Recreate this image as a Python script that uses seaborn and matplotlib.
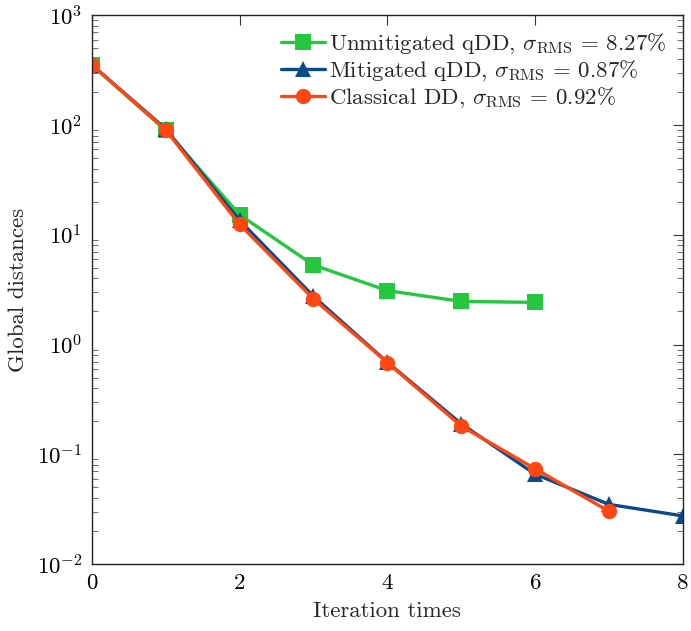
import numpy as np
import pandas as pd
import seaborn as sns
import matplotlib
matplotlib.use("Agg")
import matplotlib.pyplot as plt
from matplotlib.ticker import LogLocator, NullFormatter

# Global distance per iteration for each solver
iters_unmit = [0, 1, 2, 3, 4, 5, 6]
dist_unmit = [352, 89, 15.2, 5.3, 3.1, 2.47, 2.42]

iters_mit = [0, 1, 2, 3, 4, 5, 6, 7, 8]
dist_mit = [352, 92, 13.5, 2.75, 0.69, 0.19, 0.066, 0.035, 0.0275]

iters_cls = [0, 1, 2, 3, 4, 5, 6, 7]
dist_cls = [352, 90, 12.4, 2.6, 0.685, 0.181, 0.074, 0.0303]

labels = [
    r"Unmitigated qDD, $\sigma_{\mathrm{RMS}}$ = 8.27%",
    r"Mitigated qDD, $\sigma_{\mathrm{RMS}}$ = 0.87%",
    r"Classical DD, $\sigma_{\mathrm{RMS}}$ = 0.92%",
]

sns.set_theme(style="white")
plt.rcParams["font.family"] = ["cmr10", "DejaVu Serif"]
plt.rcParams["mathtext.fontset"] = "cm"
plt.rcParams["axes.formatter.use_mathtext"] = True
plt.rcParams["axes.unicode_minus"] = True

df = pd.concat([
    pd.DataFrame({"iter": iters_unmit, "dist": dist_unmit, "series": labels[0]}),
    pd.DataFrame({"iter": iters_mit, "dist": dist_mit, "series": labels[1]}),
    pd.DataFrame({"iter": iters_cls, "dist": dist_cls, "series": labels[2]}),
])

palette = {labels[0]: "#27C640", labels[1]: "#0B4A8A", labels[2]: "#FF4713"}
markers = {labels[0]: "s", labels[1]: "^", labels[2]: "o"}

fig = plt.figure(figsize=(6.91, 6.31), dpi=100)
ax = fig.add_axes([0.133, 0.106, 0.855, 0.870])

sns.lineplot(data=df, x="iter", y="dist", hue="series", style="series",
             markers=markers, dashes=False, palette=palette, ax=ax,
             linewidth=2.4, markersize=11, markeredgewidth=0, legend="full")

ax.set_yscale("log")
ax.set_xlim(0, 8)
ax.set_ylim(1e-2, 1e3)
ax.set_xticks([0, 2, 4, 6, 8])
ax.yaxis.set_major_locator(LogLocator(base=10, numticks=10))
ax.yaxis.set_minor_locator(LogLocator(base=10, subs=np.arange(2, 10), numticks=20))
ax.yaxis.set_minor_formatter(NullFormatter())

ax.set_xlabel("Iteration times", fontsize=16.5, labelpad=6)
ax.set_ylabel("Global distances", fontsize=16.5, labelpad=6)
ax.tick_params(axis="both", which="major", direction="in", length=7, width=0.8,
               top=True, right=True, labelsize=16.5, colors="#333333", labelcolor="black",
               pad=7)
ax.tick_params(axis="y", which="minor", direction="in", length=4, width=0.6,
               left=True, right=True, colors="#555555")
for s in ax.spines.values():
    s.set_color("#222222")
    s.set_linewidth(1.0)

leg = ax.legend(loc="upper right", fontsize=16.5, frameon=False, handlelength=1.9,
                handletextpad=0.2, labelspacing=0.1, borderaxespad=0.3)

fig.savefig("out.png", dpi=100)
